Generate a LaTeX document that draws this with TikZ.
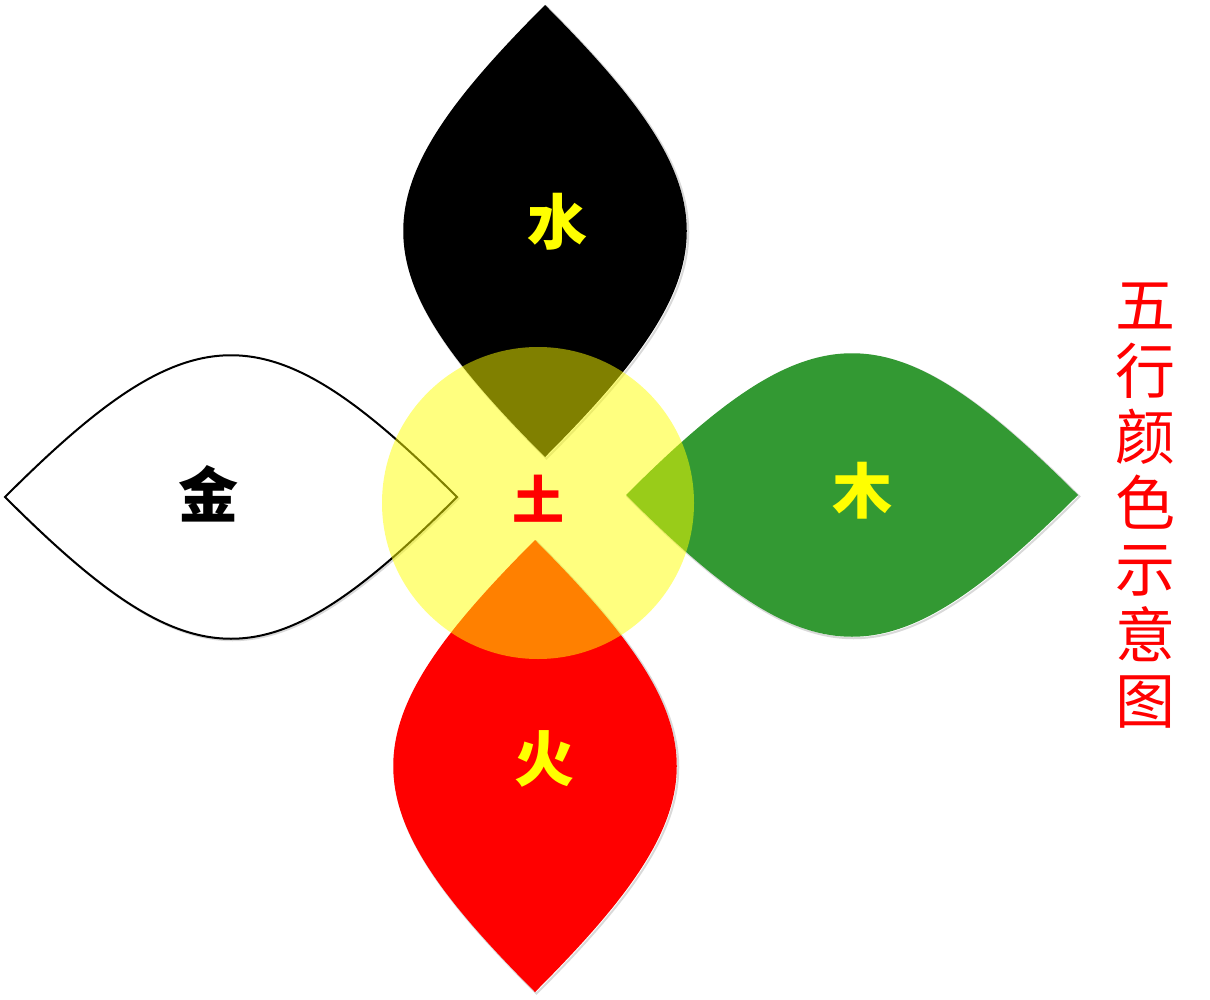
\documentclass[tikz,border=0pt]{standalone}
\usepackage{fontspec}
\newfontfamily\cjk{Noto Sans CJK SC}
\usepackage{tikz}
\usetikzlibrary{calc}
\definecolor{wood}{RGB}{51,153,51}
\definecolor{metal}{RGB}{255,255,255}
\definecolor{earth}{RGB}{255,255,0}
\tikzset{
    element/.style={inner sep=0pt, font=\cjk\bfseries\fontsize{60}{60}\selectfont},
    title/.style={inner sep=0pt, align=center, text=red, font=\cjk\fontsize{60}{66}\selectfont}
}

\begin{document}
\begin{tikzpicture}[x=1pt,y=-1pt]
    %% Background
    \useasboundingbox (0,0) rectangle (1210,1000);
    %% Leaves
    \foreach \cx/\cy/\rot/\col/\edge in {545/231/90/black/none, 231/497/0/metal/black, 852/495/0/wood/none, 535/766/90/red/none}
    {
        \draw[draw=black!15, line width=2pt, shift={(\cx+1.5,\cy+1.5)}, rotate=\rot]
        (-226,0) .. controls (-37,189) and (37,189) .. (226,0)
        .. controls (37,-189) and (-37,-189) .. (-226,0) -- cycle;
        \draw[fill=\col, draw=\edge, line width=2pt, line join=miter, shift={(\cx,\cy)}, rotate=\rot]
        (-226,0) .. controls (-37,189) and (37,189) .. (226,0)
        .. controls (37,-189) and (-37,-189) .. (-226,0) -- cycle;
    }
    %% Earth
    \fill[earth, fill opacity=0.5] (538,503) circle (156);
    %% Labels
    \node[element, text=earth] (shui) at (557,222) {水};
    \node[element, text=black] (jin) at (208,494) {金};
    \node[element, text=red, font=\cjk\bfseries\fontsize{52}{52}\selectfont] (tu) at (538,499) {土};
    \node[element, text=earth] (mu) at (862,491) {木};
    \node[element, text=earth] (huo) at (544,759) {火};
    \node[title] (caption) at (1145,506) {五\\行\\颜\\色\\示\\意\\图};
\end{tikzpicture}
\end{document}
